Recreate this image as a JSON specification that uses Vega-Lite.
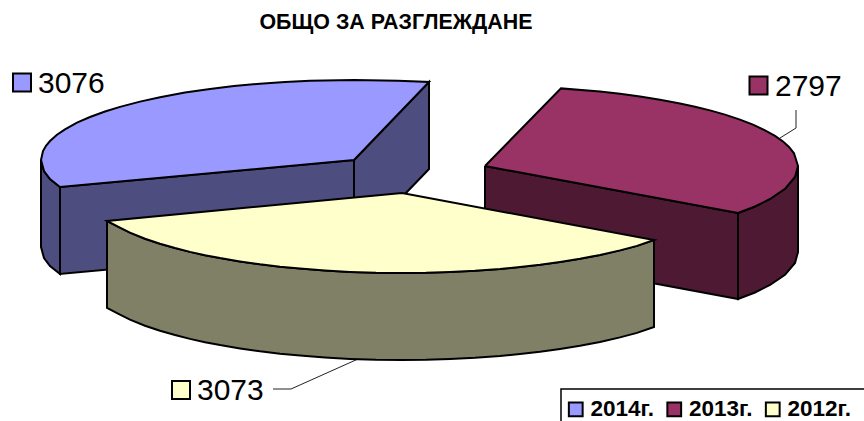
{"$schema":"https://vega.github.io/schema/vega-lite/v6.json","width":864,"height":421,"autosize":"none","padding":0,"background":"white","title":{"text":"ОБЩО ЗА РАЗГЛЕЖДАНЕ","font":"Liberation Sans","fontWeight":"bold","fontSize":21.4,"color":"black","anchor":"start","frame":"group","align":"center","dx":396,"dy":50,"offset":0,"baseline":"alphabetic"},"config":{"view":{"stroke":null},"font":"Liberation Sans"},"datasets":{"faces":[
{"g":"lead","f":"l1","o":1,"x":796,"y":110},{"g":"lead","f":"l1","o":2,"x":796,"y":128},{"g":"lead","f":"l1","o":3,"x":780,"y":138},
{"g":"lead","f":"l2","o":1,"x":273,"y":389},{"g":"lead","f":"l2","o":2,"x":291,"y":389},{"g":"lead","f":"l2","o":3,"x":358,"y":359},
{"g":"bs","f":"right","o":1,"x":354,"y":160},{"g":"bs","f":"right","o":2,"x":429,"y":82},{"g":"bs","f":"right","o":3,"x":429,"y":169},{"g":"bs","f":"right","o":4,"x":354,"y":247},{"g":"bs","f":"right","o":5,"x":354,"y":160},
{"g":"bs","f":"front","o":1,"x":60,"y":187},{"g":"bs","f":"front","o":2,"x":354,"y":160},{"g":"bs","f":"front","o":3,"x":354,"y":247},{"g":"bs","f":"front","o":4,"x":60,"y":274},{"g":"bs","f":"front","o":5,"x":60,"y":187},
{"g":"bs","f":"outer","o":1,"x":41,"y":160},{"g":"bs","f":"outer","o":2,"x":44,"y":171},{"g":"bs","f":"outer","o":3,"x":50,"y":179},{"g":"bs","f":"outer","o":4,"x":60,"y":187},{"g":"bs","f":"outer","o":5,"x":60,"y":274},{"g":"bs","f":"outer","o":6,"x":50,"y":266},{"g":"bs","f":"outer","o":7,"x":44,"y":258},{"g":"bs","f":"outer","o":8,"x":41,"y":247},{"g":"bs","f":"outer","o":9,"x":41,"y":160},
{"g":"bt","f":"top","o":1,"x":354,"y":160},{"g":"bt","f":"top","o":2,"x":429,"y":82},{"g":"bt","f":"top","o":3,"x":398,"y":80.8},{"g":"bt","f":"top","o":4,"x":354,"y":80},{"g":"bt","f":"top","o":5,"x":310,"y":80.8},{"g":"bt","f":"top","o":5.5,"x":285,"y":82},{"g":"bt","f":"top","o":6,"x":260,"y":83.7},{"g":"bt","f":"top","o":6.5,"x":234,"y":86.1},{"g":"bt","f":"top","o":7,"x":210,"y":89},{"g":"bt","f":"top","o":7.5,"x":185,"y":92.6},{"g":"bt","f":"top","o":8,"x":160,"y":97.2},{"g":"bt","f":"top","o":8.5,"x":140,"y":101.6},{"g":"bt","f":"top","o":9,"x":120,"y":106.9},{"g":"bt","f":"top","o":9.5,"x":105,"y":111.5},{"g":"bt","f":"top","o":10,"x":90,"y":117},{"g":"bt","f":"top","o":10.5,"x":77,"y":122.7},{"g":"bt","f":"top","o":11,"x":65,"y":129.3},{"g":"bt","f":"top","o":11.5,"x":57,"y":134.7},{"g":"bt","f":"top","o":12,"x":50,"y":141},{"g":"bt","f":"top","o":12.5,"x":46,"y":145.8},{"g":"bt","f":"top","o":13,"x":43,"y":151},{"g":"bt","f":"top","o":14,"x":41,"y":160},{"g":"bt","f":"top","o":15,"x":44,"y":171},{"g":"bt","f":"top","o":16,"x":50,"y":179},{"g":"bt","f":"top","o":17,"x":60,"y":187},{"g":"bt","f":"top","o":18,"x":354,"y":160},
{"g":"ms","f":"front","o":1,"x":485,"y":166},{"g":"ms","f":"front","o":2,"x":738,"y":213},{"g":"ms","f":"front","o":3,"x":738,"y":299},{"g":"ms","f":"front","o":4,"x":485,"y":252},{"g":"ms","f":"front","o":5,"x":485,"y":166},
{"g":"ms","f":"outer","o":1,"x":798,"y":166},{"g":"ms","f":"outer","o":2,"x":795,"y":177},{"g":"ms","f":"outer","o":3,"x":785,"y":188.8},{"g":"ms","f":"outer","o":4,"x":770,"y":199},{"g":"ms","f":"outer","o":5,"x":755,"y":206.5},{"g":"ms","f":"outer","o":6,"x":738,"y":213},{"g":"ms","f":"outer","o":7,"x":738,"y":299},{"g":"ms","f":"outer","o":8,"x":755,"y":292.5},{"g":"ms","f":"outer","o":9,"x":770,"y":285},{"g":"ms","f":"outer","o":10,"x":785,"y":274.8},{"g":"ms","f":"outer","o":11,"x":795,"y":263},{"g":"ms","f":"outer","o":12,"x":798,"y":252},{"g":"ms","f":"outer","o":13,"x":798,"y":166},
{"g":"mt","f":"top","o":1,"x":485,"y":166},{"g":"mt","f":"top","o":2,"x":561,"y":88.4},{"g":"mt","f":"top","o":3,"x":600,"y":91.6},{"g":"mt","f":"top","o":3.5,"x":620,"y":93.8},{"g":"mt","f":"top","o":4,"x":640,"y":96.5},{"g":"mt","f":"top","o":4.5,"x":660,"y":99.7},{"g":"mt","f":"top","o":5,"x":680,"y":103.4},{"g":"mt","f":"top","o":5.5,"x":695,"y":106.7},{"g":"mt","f":"top","o":6,"x":710,"y":110.4},{"g":"mt","f":"top","o":6.5,"x":725,"y":114.6},{"g":"mt","f":"top","o":7,"x":740,"y":119.6},{"g":"mt","f":"top","o":7.5,"x":753,"y":124.6},{"g":"mt","f":"top","o":8,"x":765,"y":130.3},{"g":"mt","f":"top","o":8.5,"x":775,"y":135.9},{"g":"mt","f":"top","o":9,"x":783,"y":141.5},{"g":"mt","f":"top","o":9.5,"x":789,"y":147},{"g":"mt","f":"top","o":10,"x":794,"y":153.3},{"g":"mt","f":"top","o":11,"x":798,"y":166},{"g":"mt","f":"top","o":12,"x":795,"y":177},{"g":"mt","f":"top","o":13,"x":785,"y":188.8},{"g":"mt","f":"top","o":14,"x":770,"y":199},{"g":"mt","f":"top","o":15,"x":755,"y":206.5},{"g":"mt","f":"top","o":16,"x":738,"y":213},{"g":"mt","f":"top","o":17,"x":485,"y":166},
{"g":"ys","f":"side","o":1,"x":107,"y":221},{"g":"ys","f":"side","o":1.5,"x":118,"y":226.6},{"g":"ys","f":"side","o":2,"x":130,"y":232.6},{"g":"ys","f":"side","o":2.5,"x":145,"y":238.7},{"g":"ys","f":"side","o":3,"x":160,"y":243.7},{"g":"ys","f":"side","o":3.5,"x":175,"y":248},{"g":"ys","f":"side","o":4,"x":190,"y":251.9},{"g":"ys","f":"side","o":4.5,"x":205,"y":255.2},{"g":"ys","f":"side","o":5,"x":220,"y":258.1},{"g":"ys","f":"side","o":5.5,"x":240,"y":261.4},{"g":"ys","f":"side","o":6,"x":260,"y":264.3},{"g":"ys","f":"side","o":6.5,"x":280,"y":266.7},{"g":"ys","f":"side","o":7,"x":300,"y":268.6},{"g":"ys","f":"side","o":7.5,"x":325,"y":270.5},{"g":"ys","f":"side","o":8,"x":350,"y":271.9},{"g":"ys","f":"side","o":8.5,"x":376,"y":272.8},{"g":"ys","f":"side","o":9,"x":402,"y":273},{"g":"ys","f":"side","o":9.5,"x":426,"y":272.8},{"g":"ys","f":"side","o":10,"x":450,"y":272},{"g":"ys","f":"side","o":10.5,"x":475,"y":270.8},{"g":"ys","f":"side","o":11,"x":500,"y":269},{"g":"ys","f":"side","o":11.5,"x":520,"y":267.1},{"g":"ys","f":"side","o":12,"x":540,"y":264.8},{"g":"ys","f":"side","o":12.5,"x":560,"y":262},{"g":"ys","f":"side","o":13,"x":580,"y":258.8},{"g":"ys","f":"side","o":13.5,"x":600,"y":254.9},{"g":"ys","f":"side","o":14,"x":620,"y":250.4},{"g":"ys","f":"side","o":14.5,"x":637,"y":245.9},{"g":"ys","f":"side","o":15,"x":654,"y":240},
{"g":"ys","f":"side","o":16,"x":654,"y":327},{"g":"ys","f":"side","o":16.5,"x":637,"y":332.9},{"g":"ys","f":"side","o":17,"x":620,"y":337.4},{"g":"ys","f":"side","o":17.5,"x":600,"y":341.9},{"g":"ys","f":"side","o":18,"x":580,"y":345.8},{"g":"ys","f":"side","o":18.5,"x":560,"y":349},{"g":"ys","f":"side","o":19,"x":540,"y":351.8},{"g":"ys","f":"side","o":19.5,"x":520,"y":354.1},{"g":"ys","f":"side","o":20,"x":500,"y":356},{"g":"ys","f":"side","o":20.5,"x":475,"y":357.8},{"g":"ys","f":"side","o":21,"x":450,"y":359},{"g":"ys","f":"side","o":21.5,"x":426,"y":359.8},{"g":"ys","f":"side","o":22,"x":402,"y":360},{"g":"ys","f":"side","o":22.5,"x":376,"y":359.8},{"g":"ys","f":"side","o":23,"x":350,"y":358.9},{"g":"ys","f":"side","o":23.5,"x":325,"y":357.5},{"g":"ys","f":"side","o":24,"x":300,"y":355.6},{"g":"ys","f":"side","o":24.5,"x":280,"y":353.7},{"g":"ys","f":"side","o":25,"x":260,"y":351.3},{"g":"ys","f":"side","o":25.5,"x":240,"y":348.4},{"g":"ys","f":"side","o":26,"x":220,"y":345.1},{"g":"ys","f":"side","o":26.5,"x":205,"y":342.2},{"g":"ys","f":"side","o":27,"x":190,"y":338.9},{"g":"ys","f":"side","o":27.5,"x":175,"y":335},{"g":"ys","f":"side","o":28,"x":160,"y":330.7},{"g":"ys","f":"side","o":28.5,"x":145,"y":325.7},{"g":"ys","f":"side","o":29,"x":130,"y":319.6},{"g":"ys","f":"side","o":29.5,"x":118,"y":313.6},{"g":"ys","f":"side","o":30,"x":107,"y":308},{"g":"ys","f":"side","o":31,"x":107,"y":221},
{"g":"yt","f":"top","o":1,"x":402,"y":193},{"g":"yt","f":"top","o":2,"x":654,"y":240},{"g":"yt","f":"top","o":2.5,"x":637,"y":245.9},{"g":"yt","f":"top","o":3,"x":620,"y":250.4},{"g":"yt","f":"top","o":3.5,"x":600,"y":254.9},{"g":"yt","f":"top","o":4,"x":580,"y":258.8},{"g":"yt","f":"top","o":4.5,"x":560,"y":262},{"g":"yt","f":"top","o":5,"x":540,"y":264.8},{"g":"yt","f":"top","o":5.5,"x":520,"y":267.1},{"g":"yt","f":"top","o":6,"x":500,"y":269},{"g":"yt","f":"top","o":6.5,"x":475,"y":270.8},{"g":"yt","f":"top","o":7,"x":450,"y":272},{"g":"yt","f":"top","o":7.5,"x":426,"y":272.8},{"g":"yt","f":"top","o":8,"x":402,"y":273},{"g":"yt","f":"top","o":8.5,"x":376,"y":272.8},{"g":"yt","f":"top","o":9,"x":350,"y":271.9},{"g":"yt","f":"top","o":9.5,"x":325,"y":270.5},{"g":"yt","f":"top","o":10,"x":300,"y":268.6},{"g":"yt","f":"top","o":10.5,"x":280,"y":266.7},{"g":"yt","f":"top","o":11,"x":260,"y":264.3},{"g":"yt","f":"top","o":11.5,"x":240,"y":261.4},{"g":"yt","f":"top","o":12,"x":220,"y":258.1},{"g":"yt","f":"top","o":12.5,"x":205,"y":255.2},{"g":"yt","f":"top","o":13,"x":190,"y":251.9},{"g":"yt","f":"top","o":13.5,"x":175,"y":248},{"g":"yt","f":"top","o":14,"x":160,"y":243.7},{"g":"yt","f":"top","o":14.5,"x":145,"y":238.7},{"g":"yt","f":"top","o":15,"x":130,"y":232.6},{"g":"yt","f":"top","o":15.5,"x":118,"y":226.6},{"g":"yt","f":"top","o":16,"x":107,"y":221},{"g":"yt","f":"top","o":17,"x":402,"y":193},
{"g":"box","f":"box","o":1,"x":561,"y":425},{"g":"box","f":"box","o":2,"x":561,"y":389},{"g":"box","f":"box","o":3,"x":870,"y":389}
],"labels":[{"year":"2014г.","value":3076,"sx":22,"sy":82.5,"tx":38,"ty":93},{"year":"2013г.","value":2797,"sx":758.5,"sy":85.5,"tx":775,"ty":96},{"year":"2012г.","value":3073,"sx":181,"sy":390,"tx":197,"ty":400}]},
"encoding":{"x":{"field":"x","type":"quantitative","scale":{"domain":[0,864]},"axis":null},"y":{"field":"y","type":"quantitative","scale":{"domain":[421,0]},"axis":null}},
"layer":[
{"data":{"name":"faces"},"transform":[{"filter":"datum.g=='lead'"}],"mark":{"type":"line","stroke":"#222222","strokeWidth":1},"encoding":{"detail":{"field":"f"},"order":{"field":"o","type":"quantitative"}}},
{"data":{"name":"faces"},"transform":[{"filter":"datum.g=='bs'"}],"mark":{"type":"line","fill":"#4d4d80","stroke":"black","strokeWidth":2},"encoding":{"detail":{"field":"f"},"order":{"field":"o","type":"quantitative"}}},
{"data":{"name":"faces"},"transform":[{"filter":"datum.g=='bt'"}],"mark":{"type":"line","fill":"#9999ff","stroke":"black","strokeWidth":2},"encoding":{"detail":{"field":"f"},"order":{"field":"o","type":"quantitative"}}},
{"data":{"name":"faces"},"transform":[{"filter":"datum.g=='ms'"}],"mark":{"type":"line","fill":"#4d1933","stroke":"black","strokeWidth":2},"encoding":{"detail":{"field":"f"},"order":{"field":"o","type":"quantitative"}}},
{"data":{"name":"faces"},"transform":[{"filter":"datum.g=='mt'"}],"mark":{"type":"line","fill":"#993366","stroke":"black","strokeWidth":2},"encoding":{"detail":{"field":"f"},"order":{"field":"o","type":"quantitative"}}},
{"data":{"name":"faces"},"transform":[{"filter":"datum.g=='ys'"}],"mark":{"type":"line","fill":"#808066","stroke":"black","strokeWidth":2},"encoding":{"detail":{"field":"f"},"order":{"field":"o","type":"quantitative"}}},
{"data":{"name":"faces"},"transform":[{"filter":"datum.g=='yt'"}],"mark":{"type":"line","fill":"#ffffcc","stroke":"black","strokeWidth":2},"encoding":{"detail":{"field":"f"},"order":{"field":"o","type":"quantitative"}}},
{"data":{"name":"faces"},"transform":[{"filter":"datum.g=='box'"}],"mark":{"type":"line","stroke":"black","strokeWidth":1.5,"clip":false},"encoding":{"detail":{"field":"f"},"order":{"field":"o","type":"quantitative"}}},
{"data":{"name":"labels"},"mark":{"type":"point","shape":"square","filled":true,"size":324,"stroke":"black","strokeWidth":2,"opacity":1},"encoding":{"x":{"field":"sx","type":"quantitative"},"y":{"field":"sy","type":"quantitative"},"fill":{"field":"year","type":"nominal","scale":{"domain":["2014г.","2013г.","2012г."],"range":["#9999ff","#993366","#ffffcc"]},"legend":{"orient":"none","legendX":557.5,"legendY":391,"direction":"horizontal","title":null,"columns":3,"padding":7,"symbolType":"square","symbolSize":190,"symbolStrokeColor":"black","symbolStrokeWidth":2,"symbolOpacity":1,"labelFont":"Liberation Sans","labelFontWeight":"bold","labelFontSize":22.5,"labelColor":"black","labelOffset":3.5,"columnPadding":8.5,"labelLimit":120}}}},
{"data":{"name":"labels"},"mark":{"type":"text","align":"left","baseline":"alphabetic","font":"Liberation Sans","fontSize":30,"color":"black"},"encoding":{"x":{"field":"tx","type":"quantitative"},"y":{"field":"ty","type":"quantitative"},"text":{"field":"value","type":"nominal"}}}
]}
